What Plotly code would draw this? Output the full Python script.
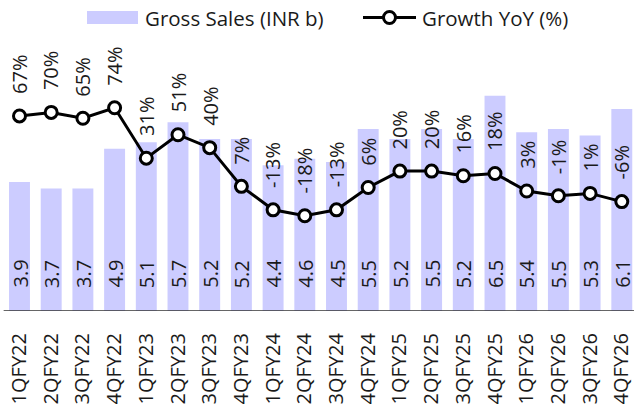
import plotly.graph_objects as go

quarters = ["1QFY22", "2QFY22", "3QFY22", "4QFY22", "1QFY23", "2QFY23", "3QFY23", "4QFY23",
            "1QFY24", "2QFY24", "3QFY24", "4QFY24", "1QFY25", "2QFY25", "3QFY25", "4QFY25",
            "1QFY26", "2QFY26", "3QFY26", "4QFY26"]
gross_sales = [3.9, 3.7, 3.7, 4.9, 5.1, 5.7, 5.2, 5.2, 4.4, 4.6, 4.5, 5.5, 5.2, 5.5, 5.2, 6.5,
               5.4, 5.5, 5.3, 6.1]
growth_yoy = [67, 70, 65, 74, 31, 51, 40, 7, -13, -18, -13, 6, 20, 20, 16, 18, 3, -1, 1, -6]

FONT = "Open Sans"
BAR_COLOR = "#CCCCFF"
TXT = "#1a1a1a"
W, H = 634, 408
ML, MR, MT, MB = 0, 0, 40, 97
PH = H - MT - MB

fig = go.Figure()
fig.add_trace(go.Bar(x=quarters, y=gross_sales, name="Gross Sales (INR b)",
                     marker=dict(color=BAR_COLOR, line=dict(width=0)),
                     showlegend=False, hoverinfo="skip"))
fig.add_trace(go.Scatter(x=quarters, y=growth_yoy, name="Growth YoY (%)", yaxis="y2",
                         mode="lines+markers",
                         line=dict(color="black", width=3),
                         marker=dict(symbol="circle", size=12, color="white",
                                     line=dict(color="black", width=3)),
                         showlegend=False, hoverinfo="skip"))

annotations = []
for q, v in zip(quarters, gross_sales):
    annotations.append(dict(x=q, y=0, xref="x", yref="y", text=f"{v:.1f}", textangle=-90,
                            showarrow=False, xanchor="center", yanchor="bottom", yshift=21,
                            font=dict(family=FONT, size=20, color=TXT)))
for q, g in zip(quarters, growth_yoy):
    annotations.append(dict(x=q, y=g, xref="x", yref="y2", text=f"{g}%", textangle=-90,
                            showarrow=False, xanchor="center", yanchor="bottom", yshift=20,
                            font=dict(family=FONT, size=20, color=TXT)))

def px_x(p):
    return (p - ML) / (W - ML - MR)

def px_y(p):
    return (H - MB - p) / PH

# custom legend
shapes = [
    dict(type="rect", xref="paper", yref="paper", x0=px_x(87), x1=px_x(138),
         y0=px_y(24), y1=px_y(11), fillcolor=BAR_COLOR, line=dict(width=0)),
    dict(type="line", xref="paper", yref="paper", x0=px_x(363), x1=px_x(416),
         y0=px_y(17.5), y1=px_y(17.5), line=dict(color="black", width=3)),
    dict(type="circle", xref="paper", yref="paper", xsizemode="pixel", ysizemode="pixel",
         xanchor=px_x(389.5), yanchor=px_y(17.5), x0=-6, x1=6, y0=-6, y1=6,
         fillcolor="white", line=dict(color="black", width=3)),
    dict(type="line", xref="x", yref="y", x0=-0.5, x1=19.6, y0=0, y1=0,
         line=dict(color="#333333", width=1.5)),
]
annotations.append(dict(x=px_x(143), y=px_y(18), xref="paper", yref="paper",
                        text="Gross Sales (INR b)", showarrow=False, xanchor="left",
                        yanchor="middle", font=dict(family=FONT, size=20.5, color=TXT)))
annotations.append(dict(x=px_x(420), y=px_y(18), xref="paper", yref="paper",
                        text="Growth YoY (%)", showarrow=False, xanchor="left",
                        yanchor="middle", font=dict(family=FONT, size=20.5, color=TXT)))

fig.update_layout(
    width=W, height=H,
    margin=dict(l=ML, r=MR, t=MT, b=MB, pad=0),
    paper_bgcolor="white", plot_bgcolor="white",
    bargap=0.34,
    showlegend=False,
    hovermode=False,
    xaxis=dict(type="category", range=[-0.615, 19.385], tickangle=-90,
               tickfont=dict(family=FONT, size=20, color=TXT), showgrid=False,
               showline=False, ticks="", zeroline=False, ticklen=0,
               ticklabelstandoff=17, fixedrange=True),
    yaxis=dict(range=[0, PH / 33.1], visible=False, showgrid=False, zeroline=False,
               fixedrange=True),
    yaxis2=dict(range=[-99.2, 131.7], overlaying="y", side="right", visible=False,
                showgrid=False, zeroline=False, fixedrange=True),
    annotations=annotations,
    shapes=shapes,
)

fig.write_html("out.html", config={"displayModeBar": False, "staticPlot": True},
               post_script="document.body.style.margin='0';")
